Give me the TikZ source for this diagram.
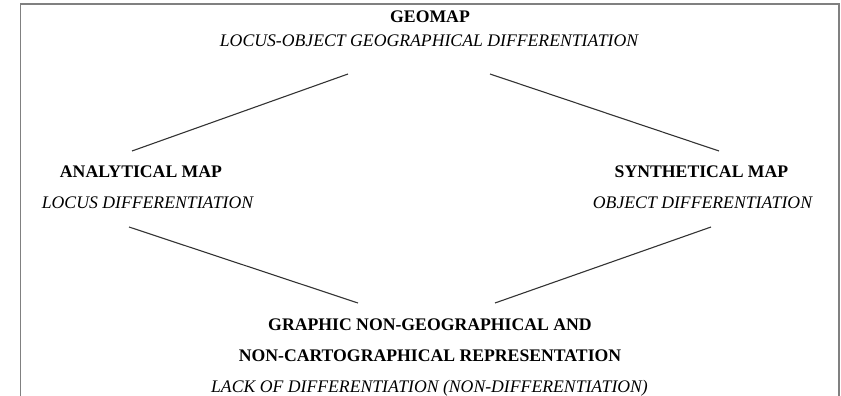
\documentclass[tikz,border=0pt]{standalone}
\usepackage{fontspec}
\setmainfont{Liberation Serif}
\usepackage{tikz}
\usetikzlibrary{positioning}

\begin{document}
\begin{tikzpicture}[x=1pt, y=-1pt]
        \tikzstyle{every node}=[inner sep=0pt, anchor=base, font=\fontsize{17.7}{20}\selectfont]
        \tikzstyle{head}=[font=\fontsize{17.7}{20}\selectfont\bfseries]
        \tikzstyle{sub}=[font=\fontsize{17.7}{20}\selectfont\itshape]
        \tikzstyle{link}=[draw, line width=1.1pt, black!80]

        \useasboundingbox (0,0) rectangle (841,396);
        \draw[gray, line width=1.2pt] (20.5,396) -- (20.5,4) -- (839,4) -- (839,396);

        \node (geo)     [head] at (430,22.7) {GEOMAP};
        \node (geosub)  [sub]  at (429,46.5) {LOCUS-OBJECT GEOGRAPHICAL DIFFERENTIATION};

        \node (ana)     [head] at (141,177)  {ANALYTICAL MAP};
        \node (anasub)  [sub]  at (147.5,208) {LOCUS DIFFERENTIATION};

        \node (syn)     [head] at (701.5,177) {SYNTHETICAL MAP};
        \node (synsub)  [sub]  at (702.5,208) {OBJECT DIFFERENTIATION};

        \node (gra)     [head] at (430,330)  {GRAPHIC NON-GEOGRAPHICAL AND};
        \node (gra2)    [head] at (430,361)  {NON-CARTOGRAPHICAL REPRESENTATION};
        \node (grasub)  [sub]  at (429.5,392) {LACK OF DIFFERENTIATION (NON-DIFFERENTIATION)};

        \coordinate (geoL) at (348,74);
        \coordinate (geoR) at (490,74);
        \coordinate (anaT) at (132,151);
        \coordinate (anaB) at (129,227);
        \coordinate (synT) at (719,151);
        \coordinate (synB) at (711,227);
        \coordinate (graL) at (358,303);
        \coordinate (graR) at (495,303);

        \path[link] (geoL) -- (anaT)
                    (geoR) -- (synT)
                    (anaB) -- (graL)
                    (synB) -- (graR);

    \end{tikzpicture}
\end{document}
